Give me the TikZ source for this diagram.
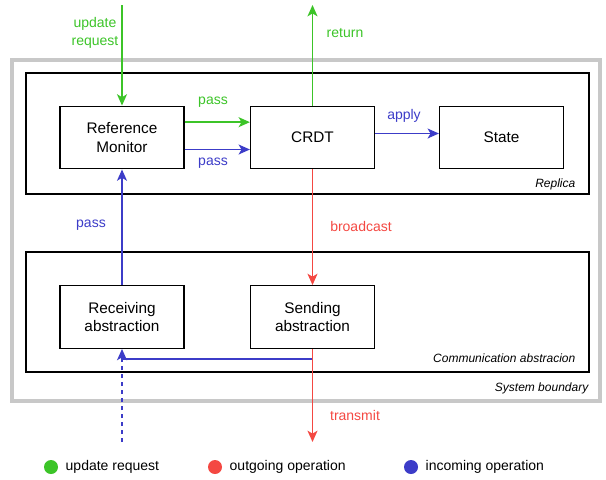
\documentclass[tikz,border=0pt]{standalone}
\usepackage{fontspec}
\setmainfont{Liberation Sans}
\usetikzlibrary{arrows.meta}
\definecolor{cg}{RGB}{60,196,40}
\definecolor{cr}{RGB}{244,72,66}
\definecolor{cb}{RGB}{60,60,200}
\definecolor{cgray}{RGB}{200,200,200}
\tikzset{
  box/.style={draw=black, line width=0.9pt, minimum width=93pt, minimum height=47pt, align=center, font=\fontsize{11.5}{14}\selectfont, inner sep=0pt},
  frame/.style={draw=black, line width=0.9pt},
  conn/.style={line width=1.1pt, -{Stealth[length=8.5pt,width=7.5pt,inset=2.2pt]}},
  lbl/.style={font=\fontsize{10.5}{14}\selectfont, align=center},
  tag/.style={font=\itshape\fontsize{9}{11}\selectfont, anchor=base east},
  dot/.style={circle, minimum size=10.5pt, inner sep=0pt},
  legtext/.style={font=\fontsize{10.5}{12.5}\selectfont, anchor=west}
}
\begin{document}
\begin{tikzpicture}[x=0.75pt,y=-0.75pt]
\useasboundingbox (0,0) rectangle (606,479);
% frames
\draw[cgray, line width=2.4pt] (12,60) rectangle (600,401);
\draw[frame] (26,73) rectangle (589,194);
\draw[frame] (26,252) rectangle (589,372);
\node[tag] (trep) at (580,187) {Replica};
\node[tag] (tcom) at (580,362) {Communication abstracion};
\node[tag] (tsys) at (593,391) {System boundary};
% boxes
\node[box] (rm) at (122,137.5) {Reference\\Monitor};
\node[box] (crdt) at (312.5,137.5) {CRDT};
\node[box] (state) at (501.5,137.5) {State};
\node[box] (recv) at (122,317) {Receiving\\abstraction};
\node[box] (send) at (312.5,317) {Sending\\abstraction};
% free ends
\coordinate (uin) at (122,5);
\coordinate (rout) at (312.5,5);
\coordinate (tout) at (312.5,442);
\coordinate (din) at (122,442);
\coordinate (jr) at (312.5,359);
\coordinate (jl) at (122,359);
% green
\draw[conn, cg] (uin) -- (rm.north);
\draw[conn, cg] (crdt.north) -- (rout);
\draw[conn, cg] ([yshift=11.5pt]rm.east) -- ([yshift=11.5pt]crdt.west);
\node[lbl, text=cg] (lupd) at (95,33) {update\\request};
\node[lbl, text=cg] (lret) at (345,33) {return};
\node[lbl, text=cg] (lp1) at (213,102) {pass};
% blue
\draw[conn, cb] ([yshift=-9pt]rm.east) -- ([yshift=-9pt]crdt.west);
\node[lbl, text=cb] (lp2) at (213,163) {pass};
\draw[conn, cb] ([yshift=3pt]crdt.east) -- ([yshift=3pt]state.west);
\node[lbl, text=cb] (lapp) at (404,116) {apply};
\draw[conn, cb] (recv.north) -- (rm.south);
\node[lbl, text=cb] (lp3) at (91,225) {pass};
\draw[conn, cb] (jr) -- (jl) -- (recv.south);
\draw[cb, line width=1.1pt, dashed] (din) -- (jl);
% red
\draw[conn, cr] (crdt.south) -- (send.north);
\node[lbl, text=cr] (lbc) at (361,226) {broadcast};
\draw[conn, cr] (send.south) -- (tout);
\node[lbl, text=cr] (ltr) at (355,415) {transmit};
% legend
\node[dot, fill=cg] (dg) at (51,467) {};
\node[legtext] (tg) at (61,467) {update request};
\node[dot, fill=cr] (dr) at (215,467) {};
\node[legtext] (tr) at (225,467) {outgoing operation};
\node[dot, fill=cb] (db) at (411,467) {};
\node[legtext] (tb) at (421,467) {incoming operation};
\end{tikzpicture}
\end{document}
